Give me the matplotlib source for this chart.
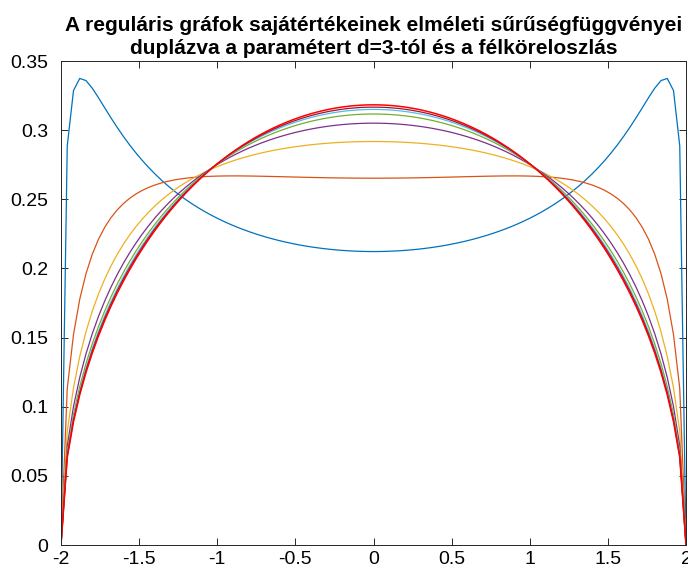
import numpy as np
import matplotlib.pyplot as plt

plt.rcParams['font.family'] = ['Liberation Sans', 'DejaVu Sans']

# degrees of the regular graphs, doubled from d=3
degrees = [3, 6, 12, 24, 48, 96, 192]
# MATLAB default line colours
colors = ['#0072BD', '#D95319', '#EDB120', '#7E2F8E', '#77AC30', '#4DBEEE', '#A2142F']
x_ticks = [-2, -1.5, -1, -0.5, 0, 0.5, 1, 1.5, 2]
y_ticks = [0, 0.05, 0.1, 0.15, 0.2, 0.25, 0.3, 0.35]

x = np.linspace(-2, 2, 101)


def kesten_mckay(x, d):
    # Kesten-McKay density rescaled by sqrt(d-1) onto [-2, 2]
    return d * (d - 1) * np.sqrt(np.clip(4 - x**2, 0, None)) / (2 * np.pi * (d**2 - (d - 1) * x**2))


fig = plt.figure(figsize=(6.88, 5.72), dpi=100)
ax = fig.add_axes([61 / 688, 27 / 572, 625 / 688, 484 / 572])

for d, c in zip(degrees, colors):
    ax.plot(x, kesten_mckay(x, d), color=c, lw=0.9)

# semicircle law
semi = np.sqrt(np.clip(4 - x**2, 0, None)) / (2 * np.pi)
ax.plot(x, semi, color='red', lw=1.1)

ax.set_xlim(-2, 2)
ax.set_ylim(0, 0.35)
ax.set_xticks(x_ticks)
ax.set_xticklabels(['-2', '-1.5', '-1', '-0.5', '0', '0.5', '1', '1.5', '2'])
ax.set_yticks(y_ticks)
ax.set_yticklabels(['0', '0.05', '0.1', '0.15', '0.2', '0.25', '0.3', '0.35'])
ax.tick_params(direction='in', top=True, right=True, labelsize=14,
               length=5, width=0.7, colors='#262626', labelcolor='black')
ax.tick_params(axis='y', pad=9)
ax.tick_params(axis='x', pad=4)
for s in ax.spines.values():
    s.set_color('#262626')
    s.set_linewidth(0.7)

ax.set_title('A reguláris gráfok sajátértékeinek elméleti sűrűségfüggvényei\n'
             'duplázva a paramétert d=3-tól és a félköreloszlás',
             fontsize=15, fontweight='bold', pad=5, linespacing=1.3)

fig.savefig('out.png', dpi=100)
